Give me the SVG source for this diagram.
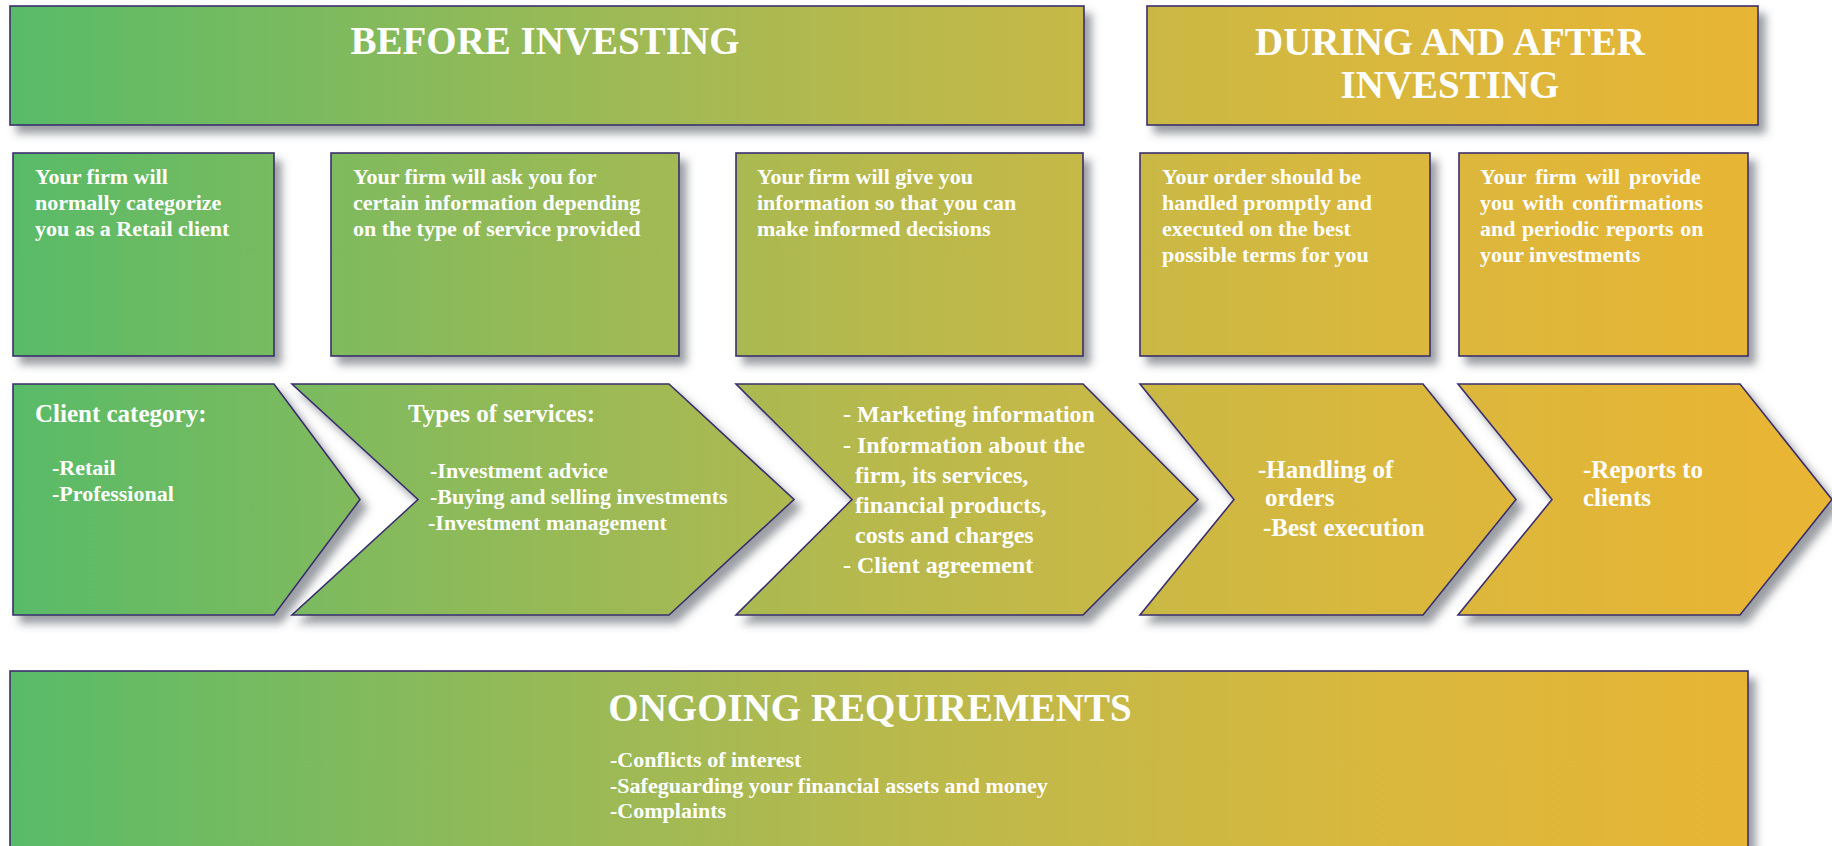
<svg xmlns="http://www.w3.org/2000/svg" width="1832" height="846" viewBox="0 0 1832 846">
<defs>
<linearGradient id="g" gradientUnits="userSpaceOnUse" x1="10" y1="0" x2="1760" y2="0">
<stop offset="0" stop-color="#58bb68"/>
<stop offset="0.25" stop-color="#8cba5a"/>
<stop offset="0.5" stop-color="#b8b94d"/>
<stop offset="0.75" stop-color="#d6b83f"/>
<stop offset="1" stop-color="#e8b534"/>
</linearGradient>
<filter id="sh" x="-10%" y="-10%" width="130%" height="140%">
<feDropShadow dx="7" dy="8" stdDeviation="4" flood-color="#4a5058" flood-opacity="0.55"/>
</filter>
</defs>
<style>
.b{fill:url(#g);stroke:#3b2f6e;stroke-width:1.6;filter:url(#sh)}
text{font-family:"Liberation Serif","Times New Roman",serif;font-weight:bold;fill:#ffffff}
.h{font-size:39px;text-anchor:middle}
.s{font-size:22px}
.m{font-size:25px}
.n{font-size:24px}
</style>
<rect width="1832" height="846" fill="#ffffff"/>
<g id="before">
<rect class="b" x="10" y="6" width="1074" height="119"/>
<text class="h" x="545" y="54">BEFORE INVESTING</text>
</g>
<g id="during">
<rect class="b" x="1147" y="6" width="611" height="119"/>
<text class="h" x="1450" y="55">DURING AND AFTER</text>
<text class="h" x="1450" y="98">INVESTING</text>
</g>
<g id="box1">
<rect class="b" x="13" y="153" width="261" height="203"/>
<text class="s" x="35" y="184">Your firm will</text>
<text class="s" x="35" y="210">normally categorize</text>
<text class="s" x="35" y="236">you as a Retail client</text>
</g>
<g id="box2">
<rect class="b" x="331" y="153" width="348" height="203"/>
<text class="s" x="353" y="184">Your firm will ask you for</text>
<text class="s" x="353" y="210">certain information depending</text>
<text class="s" x="353" y="236">on the type of service provided</text>
</g>
<g id="box3">
<rect class="b" x="736" y="153" width="347" height="203"/>
<text class="s" x="757" y="184">Your firm will give you</text>
<text class="s" x="757" y="210">information so that you can</text>
<text class="s" x="757" y="236">make informed decisions</text>
</g>
<g id="box4">
<rect class="b" x="1140" y="153" width="290" height="203"/>
<text class="s" x="1162" y="184">Your order should be</text>
<text class="s" x="1162" y="210">handled promptly and</text>
<text class="s" x="1162" y="236">executed on the best</text>
<text class="s" x="1162" y="262">possible terms for you</text>
</g>
<g id="box5">
<rect class="b" x="1459" y="153" width="289" height="203"/>
<text class="s" x="1480" y="184" word-spacing="3.6">Your firm will provide</text>
<text class="s" x="1480" y="210" word-spacing="2.7">you with confirmations</text>
<text class="s" x="1480" y="236" word-spacing="1.1">and periodic reports on</text>
<text class="s" x="1480" y="262">your investments</text>
</g>
<g id="chev1">
<path class="b" d="M13,384 L274,384 L360,499.5 L274,615 L13,615 Z"/>
<text class="m" x="35" y="422">Client category:</text>
<text class="s" x="52" y="475">-Retail</text>
<text class="s" x="52" y="501">-Professional</text>
</g>
<g id="chev2">
<path class="b" d="M292,384 L669,384 L794,499.5 L669,615 L292,615 L418,499.5 Z"/>
<text class="m" x="408" y="422">Types of services:</text>
<text class="s" x="430" y="478">-Investment advice</text>
<text class="s" x="430" y="504">-Buying and selling investments</text>
<text class="s" x="428" y="530">-Investment management</text>
</g>
<g id="chev3">
<path class="b" d="M736,384 L1083,384 L1198,499.5 L1083,615 L736,615 L852,499.5 Z"/>
<text class="n" x="843" y="422">- Marketing information</text>
<text class="n" x="843" y="452.5">- Information about the</text>
<text class="n" x="855" y="482.5">firm, its services,</text>
<text class="n" x="855" y="512.5">financial products,</text>
<text class="n" x="855" y="543">costs and charges</text>
<text class="n" x="843" y="573">- Client agreement</text>
</g>
<g id="chev4">
<path class="b" d="M1140,384 L1423,384 L1516,499.5 L1423,615 L1140,615 L1234,499.5 Z"/>
<text class="m" x="1258" y="478">-Handling of</text>
<text class="m" x="1265" y="506">orders</text>
<text class="m" x="1263" y="536">-Best execution</text>
</g>
<g id="chev5">
<path class="b" d="M1458,384 L1740,384 L1832,499.5 L1740,615 L1458,615 L1552,499.5 Z"/>
<text class="m" x="1583" y="478">-Reports to</text>
<text class="m" x="1583" y="506">clients</text>
</g>
<g id="ongoing">
<rect class="b" x="10" y="671" width="1738" height="200"/>
<text class="h" x="870" y="721">ONGOING REQUIREMENTS</text>
<text class="s" x="610" y="767">-Conflicts of interest</text>
<text class="s" x="610" y="793">-Safeguarding your financial assets and money</text>
<text class="s" x="610" y="818">-Complaints</text>
</g>
<g id="connectors"></g>
</svg>
